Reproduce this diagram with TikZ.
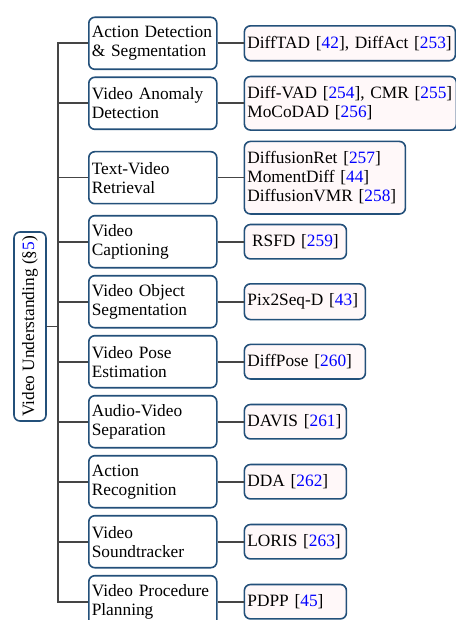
\documentclass[tikz,border=0pt]{standalone}
\usepackage{fontspec}
\setmainfont{Liberation Serif}
\usepackage{tikz}
\usetikzlibrary{positioning}

\definecolor{boxblue}{HTML}{23507A}
\definecolor{linegray}{HTML}{454545}
\definecolor{leafpink}{HTML}{FFF8F9}
\newcommand{\bref}[1]{[\textcolor{blue}{#1}]}

\tikzset{
	task/.style={draw=boxblue, line width=0.8pt, rounded corners=3pt, fill=white,
		text width=61pt, align=left, inner xsep=1.5pt, inner ysep=4pt, minimum height=26pt},
	leaf/.style={draw=boxblue, line width=0.8pt, rounded corners=3pt, fill=leafpink,
		text width=#1, align=left, inner xsep=1.5pt, inner ysep=5pt},
	leaf/.default=48pt,
	branch/.style={draw=linegray, line width=0.8pt}
}

\begin{document}
\begin{tikzpicture}[node distance=30pt, font=\fontsize{8.66}{9.5}\selectfont]
		\useasboundingbox (0,0) rectangle (227.5pt,-310pt);
		
		\node (root) [draw=boxblue, line width=0.8pt, rounded corners=3pt, fill=white, rotate=90,
			minimum width=94.5pt, minimum height=16pt, inner sep=2pt] at (15pt,-163.25pt)
			{Video Understanding (\S\textcolor{blue}{5})};
		
		\node (m1) [task, anchor=west] at (44pt,-21.65pt) {Action Detection\\\& Segmentation};
		\node (m2) [task, below of=m1] {Video Anomaly\\Detection};
		\node (m3) [task, below of=m2, yshift=-7.2pt] {Text-Video\\Retrieval};
		\node (m4) [task, below of=m3, yshift=-2pt] {Video\\Captioning};
		\node (m5) [task, below of=m4] {Video Object\\Segmentation};
		\node (m6) [task, below of=m5] {Video Pose\\Estimation};
		\node (m7) [task, below of=m6] {Audio-Video\\Separation};
		\node (m8) [task, below of=m7] {Action\\Recognition};
		\node (m9) [task, below of=m8] {Video\\Soundtracker};
		\node (m10) [task, below of=m9] {Video Procedure\\Planning};
		
		\node (l1) [leaf=102.5pt, right=13pt of m1] {DiffTAD \bref{42}, DiffAct \bref{253}};
		\node (l2) [leaf=103pt, right=13pt of m2] {Diff-VAD \bref{254}, CMR \bref{255}\\MoCoDAD \bref{256}};
		\node (l3) [leaf=77.5pt, right=13pt of m3] {DiffusionRet \bref{257}\\MomentDiff \bref{44}\\DiffusionVMR \bref{258}};
		\node (l4) [leaf, align=center, right=13pt of m4] {RSFD \bref{259}};
		\node (l5) [leaf=57.5pt, right=13pt of m5] {Pix2Seq-D \bref{43}};
		\node (l6) [leaf=57.5pt, right=13pt of m6] {DiffPose \bref{260}};
		\node (l7) [leaf, right=13pt of m7] {DAVIS \bref{261}};
		\node (l8) [leaf, right=13pt of m8] {DDA \bref{262}};
		\node (l9) [leaf, right=13pt of m9] {LORIS \bref{263}};
		\node (l10) [leaf, right=13pt of m10] {PDPP \bref{45}};
		
		% Edges
		\foreach \i in {1,...,10} {
			\draw[branch] (root.south) -- ++(5.5pt,0) |- (m\i.west);
			\draw[branch] (m\i.east) -- (l\i.west);
		}
	\end{tikzpicture}
\end{document}
